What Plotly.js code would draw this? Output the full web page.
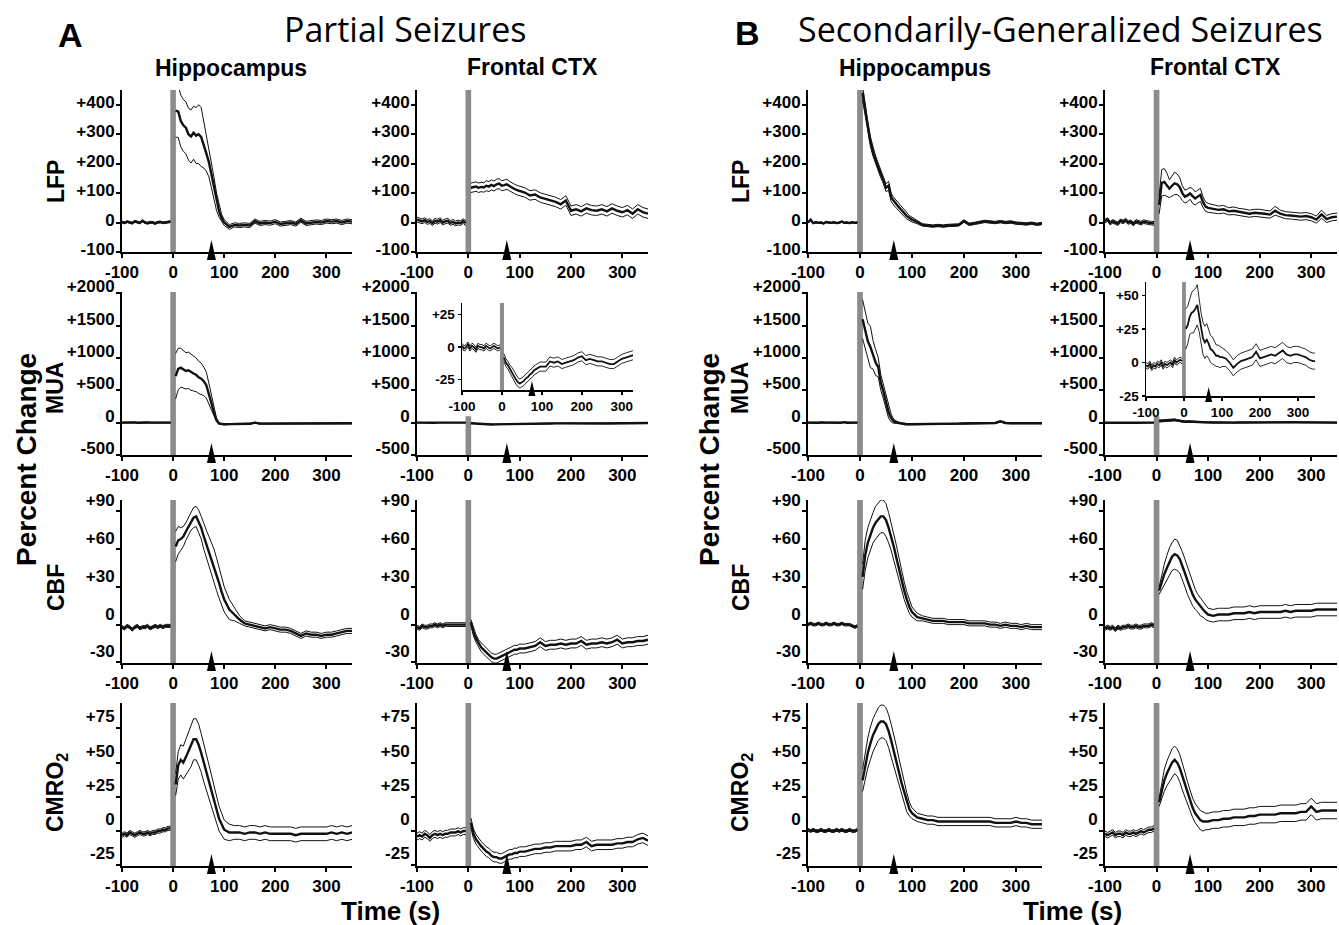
<!DOCTYPE html>
<html><head><meta charset="utf-8">
<script src="https://cdn.plot.ly/plotly-3.0.1.min.js"></script>
<style>html,body{margin:0;padding:0;background:#fff}</style>
</head><body><div id="chart" style="width:1339px;height:925px"></div>
<script>
// ---------- time grids ----------
const tPre = [-100,-95,-90,-85,-80,-75,-70,-65,-60,-55,-50,-45,-40,-35,-30,-25,-20,-15,-10,-5];
const tPost = [5,10,15,20,25,30,35,40,45,50,55,60,65,70,75,80,85,90,95,100,110,120,130,140,150,160,170,180,190,200,210,220,230,240,250,260,270,280,290,300,310,320,330,340,350];

// ---------- tick labels ----------
const xTickVals = [-100,0,100,200,300];
const xTickText = ['-100','0','100','200','300'];
const lfpTickVals = [-100,0,100,200,300,400];
const lfpTickText = ['-100','0','+100','+200','+300','+400'];
const muaTickVals = [-500,0,500,1000,1500,2000];
const muaTickText = ['-500','0','+500','+1000','+1500','+2000'];
const cbfTickVals = [-30,0,30,60,90];
const cbfTickText = ['-30','0','+30','+60','+90'];
const cmroTickVals = [-25,0,25,50,75];
const cmroTickText = ['-25','0','+25','+50','+75'];
const insetATickVals = [-25,0,25];
const insetATickText = ['-25','0','+25'];
const insetBTickVals = [-25,0,25,50];
const insetBTickText = ['-25','0','+25','+50'];

// ---------- seizure end markers (s) ----------
const arrowTimeA = 75;
const arrowTimeB = 65;

// ---------- A: Partial seizures ----------
const A_hip_LFP_pre = [2,-1,3,0,-2,4,1,-1,6,0,-2,1,0,-3,1,2,-1,0,1,3];
const A_hip_LFP_preSem = [3,3,3,3,3,3,3,3,3,3,3,3,3,3,3,3,3,3,3,3];
const A_hip_LFP_post = [380,377,345,330,322,300,292,305,295,300,290,265,235,205,160,115,70,38,15,0,-15,-8,-10,-8,-10,5,-3,0,-2,3,-5,-3,0,-5,8,-3,0,2,0,5,3,5,0,5,3];
const A_hip_LFP_postSem = [90,88,88,88,88,88,90,90,95,100,100,80,60,50,42,38,30,20,12,10,8,7,7,7,7,7,7,7,7,7,7,7,7,7,7,7,7,7,7,7,7,7,7,7,7];

const A_fro_LFP_pre = [10,6,4,8,2,5,-2,6,3,8,0,4,6,-1,2,-3,0,-2,5,-2];
const A_fro_LFP_preSem = [8,8,8,8,8,8,8,8,8,8,8,8,8,8,8,8,8,8,8,8];
const A_fro_LFP_post = [118,120,122,118,121,119,125,122,128,124,130,132,125,127,130,124,118,114,110,107,102,92,95,85,80,75,70,62,75,40,45,38,48,42,40,45,38,48,40,35,42,30,45,35,30];
const A_fro_LFP_postSem = [16,16,16,16,16,16,17,17,17,17,17,17,17,17,17,16,16,16,16,16,16,16,16,16,16,16,16,16,16,16,16,16,16,16,16,16,16,16,16,16,16,16,16,16,16];

const A_hip_MUA_pre = [0,2,-3,1,0,4,-2,1,0,-1,3,0,-2,1,2,-1,0,1,-2,0];
const A_hip_MUA_preSem = [6,6,6,6,6,6,6,6,6,6,6,6,6,6,6,6,6,6,6,6];
const A_hip_MUA_post = [720,830,850,820,800,810,780,760,740,700,680,640,580,450,300,150,40,-15,-25,-25,-22,-22,-20,-20,-18,0,-15,-15,-15,-15,-14,-14,-14,-12,-12,-12,-12,-10,-10,-10,-10,-10,-10,-10,-10];
const A_hip_MUA_postSem = [350,320,300,290,280,280,280,270,260,250,240,220,200,160,110,60,25,10,8,8,8,8,8,8,8,8,8,8,8,8,8,8,8,8,8,8,8,8,8,8,8,8,8,8,8];

const A_fro_MUA_pre = [1,-1,0,2,-1,1,0,-2,1,0,0,-1,1,0,-1,0,1,0,-1,0];
const A_fro_MUA_preSem = [2,2,2,2,2,2,2,2,2,2,2,2,2,2,2,2,2,2,2,2];
const A_fro_MUA_post = [-8,-12,-14,-17,-19,-22,-25,-27,-28,-27,-26,-24,-23,-21,-20,-18,-17,-16,-15,-15,-15,-11,-12,-11,-13,-12,-11,-10,-8,-7,-10,-9,-10,-11,-11,-12,-13,-13,-11,-9,-8,-7,-6,-6,-6];
const A_fro_MUA_postSem = [3,3,3,3,3.5,3.5,3.5,3.5,3.5,3.5,3.5,3.5,3.5,3.5,3.5,3.5,3.5,3.5,3.5,3.5,3.5,3.5,3.5,3.5,3.5,3.5,3.5,3.5,3.5,3.5,3.5,3.5,3.5,3.5,3.5,3.5,3.5,3.5,3.5,3.5,3.5,3.5,3.5,3.5,3.5];

const A_hip_CBF_pre = [-2,-3,-1,-2,-4,-2,-1,-3,-2,-2,-1,-3,-2,-1,-2,-1,-2,-1,-1,-1];
const A_hip_CBF_preSem = [1.2,1.2,1.2,1.2,1.2,1.2,1.2,1.2,1.2,1.2,1.2,1.2,1.2,1.2,1.2,1.2,1.2,1.2,1.2,1.2];
const A_hip_CBF_post = [62,67,68,70,74,78,82,85,86,82,77,70,64,58,52,46,40,33,26,20,12,8,4,1,0,-1,-2,-3,-2,-3,-4,-4,-5,-7,-9,-7,-8,-8,-9,-8,-8,-7,-6,-5,-5];
const A_hip_CBF_postSem = [12,11,9,8,7,7,7,8,8,9,9,10,11,12,13,14,13,12,11,10,8,5,3,2,2,2,2,2,2,2,2,2,2,2,2,2,2,2,2,2,2,2,2,2,2];

const A_fro_CBF_pre = [-2,-3,-1,-2,-2,-1,-1,0,-1,0,-1,0,0,0,0,0,0,0,0,0];
const A_fro_CBF_preSem = [1.5,1.5,1.5,1.5,1.5,1.5,1.5,1.5,1.5,1.5,1.5,1.5,1.5,1.5,1.5,1.5,1.5,1.5,1.5,1.5];
const A_fro_CBF_post = [2,-6,-11,-15,-18,-20,-22,-24,-26,-27,-27,-26,-25,-24,-23,-22,-21,-20,-20,-19,-19,-18,-17,-14,-17,-16,-16,-15,-16,-15,-15,-13,-16,-15,-15,-14,-15,-14,-12,-15,-14,-14,-13,-13,-12];
const A_fro_CBF_postSem = [2,3,3,3,3.5,3.5,3.5,3.5,3.5,3.5,3.5,3.5,3.5,3.5,3.5,3.5,3.5,3.5,3.5,3.5,3.5,3.5,3.5,3.5,3.5,3.5,3.5,3.5,3.5,3.5,3.5,3.5,3.5,3.5,3.5,3.5,3.5,3.5,3.5,3.5,3.5,3.5,3.5,3.5,3.5];

const A_hip_CMRO2_pre = [-3,-2,-3,-1,-2,-3,-2,-1,-2,-2,-1,-2,-1,-1,0,0,1,1,2,2];
const A_hip_CMRO2_preSem = [1.5,1.5,1.5,1.5,1.5,1.5,1.5,1.5,1.5,1.5,1.5,1.5,1.5,1.5,1.5,1.5,1.5,1.5,1.5,1.5];
const A_hip_CMRO2_post = [34,48,52,50,54,58,62,67,67,63,57,50,43,36,29,22,15,9,5,1,-1,-1,-1,-2,-1,-1,-2,-1,-2,-2,-2,-2,-2,-3,-2,-2,-2,-2,-2,-2,-1,-2,-1,-2,-1];
const A_hip_CMRO2_postSem = [8,10,11,12,13,14,15,15,15,15,14,14,13,13,12,11,10,9,8,7,6,5,5,5,5,5,5,5,5,5,5,5,5,5,5,5,5,5,5,5,5,5,5,5,5];

const A_fro_CMRO2_pre = [-4,-3,-4,-2,-3,-5,-3,-2,-3,-2,-3,-2,-2,-1,-1,-1,0,-1,0,0];
const A_fro_CMRO2_preSem = [2.5,2.5,2.5,2.5,2.5,2.5,2.5,2.5,2.5,2.5,2.5,2.5,2.5,2.5,2.5,2.5,2.5,2.5,2.5,2.5];
const A_fro_CMRO2_post = [6,-2,-6,-9,-11,-13,-15,-16,-18,-19,-19,-20,-20,-19,-18,-17,-17,-16,-16,-15,-15,-14,-13,-13,-12,-12,-11,-11,-11,-11,-10,-10,-8,-11,-10,-10,-10,-10,-9,-9,-8,-8,-6,-5,-7];
const A_fro_CMRO2_postSem = [3.5,3.5,3.5,3.5,3.5,3.5,3.5,3.5,3.5,3.5,3.5,3.5,3.5,3.5,3.5,3.5,3.5,3.5,3.5,3.5,3.5,3.5,3.5,3.5,3.5,3.5,3.5,3.5,3.5,3.5,3.5,3.5,3.5,3.5,3.5,3.5,3.5,3.5,3.5,3.5,3.5,3.5,3.5,3.5,3.5];

// ---------- B: Secondarily-generalized seizures ----------
const B_hip_LFP_pre = [0,10,-2,1,-1,0,-3,2,0,-1,1,-2,0,3,-1,0,-2,1,-1,0];
const B_hip_LFP_preSem = [2,2,2,2,2,2,2,2,2,2,2,2,2,2,2,2,2,2,2,2];
const B_hip_LFP_post = [440,380,320,275,240,212,188,165,145,118,125,85,72,62,52,40,32,22,15,10,2,-8,-10,-12,-10,-12,-10,-9,-8,5,-6,-3,0,4,2,0,3,0,2,-2,-3,-5,-2,-6,-3];
const B_hip_LFP_postSem = [25,20,18,16,15,14,14,13,13,13,15,14,13,13,13,12,12,10,9,8,6,4,4,4,4,4,4,4,4,4,4,4,4,4,4,4,4,4,4,4,4,4,4,4,4];

const B_fro_LFP_pre = [5,10,-2,4,0,-4,6,2,8,0,3,-5,4,1,-2,3,0,-1,-2,-3];
const B_fro_LFP_preSem = [6,6,6,6,6,6,6,6,6,6,6,6,6,6,6,6,6,6,6,6];
const B_fro_LFP_post = [60,135,138,128,115,125,133,130,120,100,88,92,99,90,82,88,94,70,54,50,46,43,45,38,40,36,34,30,33,32,30,27,40,30,25,24,22,20,22,18,10,28,12,18,20];
const B_fro_LFP_postSem = [30,45,45,40,30,35,38,35,32,25,22,22,20,25,22,22,22,18,16,15,14,13,13,12,13,12,12,12,12,13,12,12,15,12,12,12,12,12,12,12,12,14,12,12,12];

const B_hip_MUA_pre = [0,-2,3,0,-1,2,-3,0,1,-2,0,2,-1,0,8,-1,0,-2,1,0];
const B_hip_MUA_preSem = [6,6,6,6,6,6,6,6,6,6,6,6,6,6,6,6,6,6,6,6];
const B_hip_MUA_post = [1600,1440,1260,1170,1050,930,860,620,480,320,160,70,20,5,-5,-15,-25,-25,-25,-25,-25,-22,-20,-20,-18,-18,-15,-15,-15,-12,-12,-12,-10,-10,-10,-5,20,-5,-8,-8,-8,-8,-8,-8,-8];
const B_hip_MUA_postSem = [300,300,280,320,220,200,150,120,110,100,90,60,30,15,8,8,8,8,8,8,8,8,8,8,8,8,8,8,8,8,8,8,8,8,8,8,8,8,8,8,8,8,8,8,8];

const B_fro_MUA_pre = [-2,-3,-1,-4,-2,-3,-1,-2,0,-3,-1,-2,-1,0,-2,2,0,1,2,1];
const B_fro_MUA_preSem = [2,2,2,2,2,2,2,2,2,2,2,2,2,2,2,2,2,2,2,2];
const B_fro_MUA_post = [25,28,34,37,38,40,43,35,25,18,15,17,14,10,9,7,5,5,4,4,3,0,-4,-1,1,2,3,4,8,3,4,5,6,5,7,9,6,5,6,6,5,4,2,1,1];
const B_fro_MUA_postSem = [15,14,13,15,16,15,15,12,12,12,12,12,11,10,10,9,8,8,8,7,6,6,6,6,6,6,6,6,6,6,6,6,6,6,6,6,6,6,6,6,6,6,6,6,6];

const B_hip_CBF_pre = [0,1,0,0,1,0,0,1,0,0,1,0,0,1,0,0,0,-1,-2,-1];
const B_hip_CBF_preSem = [1,1,1,1,1,1,1,1,1,1,1,1,1,1,1,1,1,1,1,1];
const B_hip_CBF_post = [38,55,65,72,77,81,84,86,86,83,77,70,62,53,44,35,27,20,14,10,6,5,4,3,3,3,2,2,2,2,1,1,1,1,0,0,-1,0,-1,-1,-2,-1,-2,-2,-2];
const B_hip_CBF_postSem = [10,12,12,12,12,13,13,13,13,13,12,11,11,10,9,8,7,6,5,4,3,2,2,2,2,2,2,2,2,2,2,2,2,2,2,2,2,2,2,2,2,2,2,2,2];

const B_fro_CBF_pre = [-3,-2,-3,-2,-4,-2,-3,-2,-2,-1,-2,-2,-1,-2,-2,-1,-1,-1,0,-1];
const B_fro_CBF_preSem = [1.5,1.5,1.5,1.5,1.5,1.5,1.5,1.5,1.5,1.5,1.5,1.5,1.5,1.5,1.5,1.5,1.5,1.5,1.5,1.5];
const B_fro_CBF_post = [27,34,40,45,50,54,56,55,52,47,41,35,29,24,20,17,14,12,10,8,7,8,8,8,9,9,9,10,9,10,10,10,10,10,11,10,11,11,11,11,12,12,12,12,12];
const B_fro_CBF_postSem = [3,6,8,10,11,11,12,12,11,11,11,11,10,9,8,7,7,6,6,5,5,5,5,5,5,5,5,5,5,5,5,5,5,5,5,5,5,5,5,5,5,5,5,5,5];

const B_hip_CMRO2_pre = [1,0,1,0,0,1,0,0,1,0,0,1,0,1,0,0,1,0,0,1];
const B_hip_CMRO2_preSem = [1,1,1,1,1,1,1,1,1,1,1,1,1,1,1,1,1,1,1,1];
const B_hip_CMRO2_post = [37,48,57,64,70,74,78,80,80,78,73,66,59,51,43,35,28,21,16,13,10,9,8,8,7,7,7,7,7,7,7,7,7,7,7,6,6,6,6,7,6,6,5,5,5];
const B_hip_CMRO2_postSem = [8,10,11,12,12,12,12,12,12,12,12,12,12,11,10,9,8,7,5,4,3,3,3,3,3,3,3,3,3,3,3,3,3,3,3,3,3,3,3,3,3,3,3,3,3];

const B_fro_CMRO2_pre = [-2,-3,-2,-1,-3,-2,-2,-3,-1,-2,-2,-1,-2,-1,0,-1,0,1,1,2];
const B_fro_CMRO2_preSem = [2,2,2,2,2,2,2,2,2,2,2,2,2,2,2,2,2,2,2,2];
const B_fro_CMRO2_post = [21,30,37,42,46,50,52,50,46,40,34,28,22,17,13,10,8,7,7,7,8,8,9,9,10,10,10,11,11,12,12,12,12,13,13,13,13,14,14,18,14,15,15,15,15];
const B_fro_CMRO2_postSem = [3,6,8,9,10,10,10,10,10,10,9,8,8,7,7,7,7,7,6,6,6,6,6,6,6,6,6,6,6,6,6,6,6,6,6,6,6,6,6,6,6,6,6,6,6];

// ---------- layout geometry (pixels) ----------
const W = 1339, H = 925;
const colPx = [[122,352],[417,648],[808,1042],[1105,1337]];
const rowPx = [[90,252],[292,455],[500,663],[703,866]];
const px = x => x / W;
const py = y => 1 - y / H;

const rowCfg = [
  {range:[-100,450], vals:lfpTickVals, text:lfpTickText, shift:-3},
  {range:[-500,2020], vals:muaTickVals, text:muaTickText, shift:-7},
  {range:[-30.5,99], vals:cbfTickVals, text:cbfTickText, shift:-11},
  {range:[-25.5,93.5], vals:cmroTickVals, text:cmroTickText, shift:-12}
];

const panels = [
  {r:0,c:0,pre:A_hip_LFP_pre,preSem:A_hip_LFP_preSem,post:A_hip_LFP_post,postSem:A_hip_LFP_postSem,arrow:arrowTimeA},
  {r:0,c:1,pre:A_fro_LFP_pre,preSem:A_fro_LFP_preSem,post:A_fro_LFP_post,postSem:A_fro_LFP_postSem,arrow:arrowTimeA},
  {r:0,c:2,pre:B_hip_LFP_pre,preSem:B_hip_LFP_preSem,post:B_hip_LFP_post,postSem:B_hip_LFP_postSem,arrow:arrowTimeB},
  {r:0,c:3,pre:B_fro_LFP_pre,preSem:B_fro_LFP_preSem,post:B_fro_LFP_post,postSem:B_fro_LFP_postSem,arrow:arrowTimeB},
  {r:1,c:0,pre:A_hip_MUA_pre,preSem:A_hip_MUA_preSem,post:A_hip_MUA_post,postSem:A_hip_MUA_postSem,arrow:arrowTimeA},
  {r:1,c:1,pre:A_fro_MUA_pre,preSem:A_fro_MUA_preSem,post:A_fro_MUA_post,postSem:A_fro_MUA_postSem,arrow:arrowTimeA,shortBar:true},
  {r:1,c:2,pre:B_hip_MUA_pre,preSem:B_hip_MUA_preSem,post:B_hip_MUA_post,postSem:B_hip_MUA_postSem,arrow:arrowTimeB},
  {r:1,c:3,pre:B_fro_MUA_pre,preSem:B_fro_MUA_preSem,post:B_fro_MUA_post,postSem:B_fro_MUA_postSem,arrow:arrowTimeB,shortBar:true},
  {r:2,c:0,pre:A_hip_CBF_pre,preSem:A_hip_CBF_preSem,post:A_hip_CBF_post,postSem:A_hip_CBF_postSem,arrow:arrowTimeA},
  {r:2,c:1,pre:A_fro_CBF_pre,preSem:A_fro_CBF_preSem,post:A_fro_CBF_post,postSem:A_fro_CBF_postSem,arrow:arrowTimeA},
  {r:2,c:2,pre:B_hip_CBF_pre,preSem:B_hip_CBF_preSem,post:B_hip_CBF_post,postSem:B_hip_CBF_postSem,arrow:arrowTimeB},
  {r:2,c:3,pre:B_fro_CBF_pre,preSem:B_fro_CBF_preSem,post:B_fro_CBF_post,postSem:B_fro_CBF_postSem,arrow:arrowTimeB},
  {r:3,c:0,pre:A_hip_CMRO2_pre,preSem:A_hip_CMRO2_preSem,post:A_hip_CMRO2_post,postSem:A_hip_CMRO2_postSem,arrow:arrowTimeA},
  {r:3,c:1,pre:A_fro_CMRO2_pre,preSem:A_fro_CMRO2_preSem,post:A_fro_CMRO2_post,postSem:A_fro_CMRO2_postSem,arrow:arrowTimeA},
  {r:3,c:2,pre:B_hip_CMRO2_pre,preSem:B_hip_CMRO2_preSem,post:B_hip_CMRO2_post,postSem:B_hip_CMRO2_postSem,arrow:arrowTimeB},
  {r:3,c:3,pre:B_fro_CMRO2_pre,preSem:B_fro_CMRO2_preSem,post:B_fro_CMRO2_post,postSem:B_fro_CMRO2_postSem,arrow:arrowTimeB}
];

const insets = [
  {n:17, xPx:[462,633], yPx:[303,390], xr:[-100,328], yr:[-33,34], vals:insetATickVals, text:insetATickText,
   pre:A_fro_MUA_pre,preSem:A_fro_MUA_preSem,post:A_fro_MUA_post,postSem:A_fro_MUA_postSem,arrow:arrowTimeA},
  {n:18, xPx:[1146,1315], yPx:[282,396], xr:[-100,345], yr:[-25,60], vals:insetBTickVals, text:insetBTickText,
   pre:B_fro_MUA_pre,preSem:B_fro_MUA_preSem,post:B_fro_MUA_post,postSem:B_fro_MUA_postSem,arrow:arrowTimeB}
];

const FONT = 'Liberation Sans, Arial, sans-serif';
const traces = [];
const shapes = [];
const layout = {
  width: W, height: H, margin:{l:0,r:0,t:0,b:0},
  paper_bgcolor:'#fff', plot_bgcolor:'rgba(0,0,0,0)', showlegend:false,
  font:{family:FONT, color:'#000'}
};

function axisBase(tickSize){
  return {
    showline:true, linecolor:'#000', linewidth:2, ticks:'outside', tickcolor:'#000', tickwidth:2,
    showgrid:false, zeroline:false, fixedrange:true,
    tickfont:{family:FONT, size:tickSize, weight:700, color:'#000'}, tickmode:'array'
  };
}

function addLines(xa, ya, p, meanW, semW){
  const X = tPre.concat([null], tPost);
  const lo = p.pre.map((v,i)=>v - p.preSem[i]).concat([null], p.post.map((v,i)=>v - p.postSem[i]));
  const hi = p.pre.map((v,i)=>v + p.preSem[i]).concat([null], p.post.map((v,i)=>v + p.postSem[i]));
  const mid = p.pre.concat([null], p.post);
  [[lo,semW],[hi,semW],[mid,meanW]].forEach(([y,w])=>{
    traces.push({type:'scatter', mode:'lines', x:X, y:y, xaxis:xa, yaxis:ya,
      line:{color:'#111', width:w, shape:'linear'}, hoverinfo:'skip', showlegend:false});
  });
}

panels.forEach((p, i) => {
  const n = i + 1;
  const xa = n === 1 ? 'x' : 'x' + n;
  const ya = n === 1 ? 'y' : 'y' + n;
  const rc = rowCfg[p.r];
  const cp = colPx[p.c], rp = rowPx[p.r];
  layout['xaxis' + (n===1?'':n)] = Object.assign(axisBase(17), {
    domain:[px(cp[0]), px(cp[1])], range:[-100,350], anchor:ya,
    tickvals:xTickVals, ticktext:xTickText, ticklen:4
  });
  layout['yaxis' + (n===1?'':n)] = Object.assign(axisBase(17), {
    domain:[py(rp[1]), py(rp[0])], range:rc.range, anchor:xa,
    tickvals:rc.vals, ticktext:rc.text, ticklen:4, ticklabelshift:rc.shift, ticklabelstandoff:-2
  });
  addLines(xa, ya, p, 2.4, 1);
  shapes.push({type:'rect', xref:xa, yref:ya, x0:-5.5, x1:5.5, y0:rc.range[0], y1: p.shortBar ? 100 : rc.range[1],
    fillcolor:'#8c8c8c', line:{width:0}, layer:'below'});
  shapes.push({type:'path', xref:xa, yref:'paper', xsizemode:'pixel', ysizemode:'pixel',
    xanchor:p.arrow, yanchor:py(rp[1]), path:'M-4.5,-8L4.5,-8L0,12Z', fillcolor:'#000', line:{width:0}});
});

insets.forEach(ins => {
  const xa = 'x' + ins.n, ya = 'y' + ins.n;
  layout['xaxis' + ins.n] = Object.assign(axisBase(13.5), {
    domain:[px(ins.xPx[0]), px(ins.xPx[1])], range:ins.xr, anchor:ya,
    tickvals:xTickVals, ticktext:xTickText, ticklen:3, linewidth:1.5, tickwidth:1.5
  });
  layout['yaxis' + ins.n] = Object.assign(axisBase(13.5), {
    domain:[py(ins.yPx[1]), py(ins.yPx[0])], range:ins.yr, anchor:xa,
    tickvals:ins.vals, ticktext:ins.text, ticklen:3, linewidth:1.5, tickwidth:1.5
  });
  addLines(xa, ya, ins, 1.8, 0.9);
  shapes.push({type:'rect', xref:xa, yref:ya, x0:-5, x1:5, y0:ins.yr[0], y1:ins.yr[1],
    fillcolor:'#8c8c8c', line:{width:0}, layer:'below'});
  shapes.push({type:'path', xref:xa, yref:'paper', xsizemode:'pixel', ysizemode:'pixel',
    xanchor:ins.arrow, yanchor:py(ins.yPx[1]), path:'M-3.5,-6L3.5,-6L0,9Z', fillcolor:'#000', line:{width:0}});
});

layout.shapes = shapes;

function ann(text, x, y, size, opts){
  return Object.assign({text:text, x:px(x), y:py(y), xref:'paper', yref:'paper', showarrow:false,
    xanchor:'center', yanchor:'middle', font:{family:FONT, size:size, weight:700, color:'#000'}}, opts||{});
}
const TITLE_FONT = 'Open Sans, Noto Sans, sans-serif';
layout.annotations = [
  ann('A', 70, 35, 34),
  ann('B', 747, 33, 34),
  ann('Partial Seizures', 405, 29, 34, {font:{family:TITLE_FONT, size:34, weight:400, color:'#000'}}),
  ann('Secondarily-Generalized Seizures', 1060, 29, 34, {font:{family:TITLE_FONT, size:34, weight:400, color:'#000'}}),
  ann('Hippocampus', 231, 68, 23),
  ann('Frontal CTX', 532, 67, 23),
  ann('Hippocampus', 915, 68, 23),
  ann('Frontal CTX', 1215, 67, 23),
  ann('LFP', 56, 182, 23, {textangle:-90}),
  ann('MUA', 55, 388, 23, {textangle:-90}),
  ann('CBF', 56, 588, 23, {textangle:-90}),
  ann('CMRO<sub>2</sub>', 56, 793, 23, {textangle:-90}),
  ann('LFP', 741, 182, 23, {textangle:-90}),
  ann('MUA', 740, 388, 23, {textangle:-90}),
  ann('CBF', 741, 588, 23, {textangle:-90}),
  ann('CMRO<sub>2</sub>', 741, 793, 23, {textangle:-90}),
  ann('Percent Change', 26, 460, 28, {textangle:-90}),
  ann('Percent Change', 709, 460, 28, {textangle:-90}),
  ann('Time (s)', 390, 911, 26),
  ann('Time (s)', 1072, 911, 26)
];

Plotly.newPlot('chart', traces, layout, {staticPlot:true, displayModeBar:false});
</script></body></html>
